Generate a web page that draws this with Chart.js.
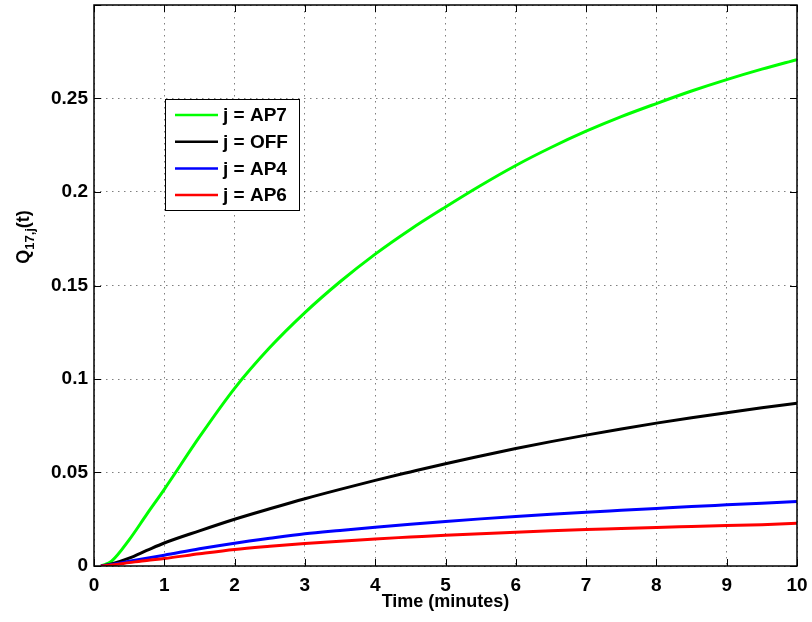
<!DOCTYPE html>
<html>
<head>
<meta charset="utf-8">
<script src="https://cdn.jsdelivr.net/npm/chart.js@4.4.1/dist/chart.umd.min.js"></script>
<style>
  html, body { margin: 0; padding: 0; background: #fff; }
  #wrap { width: 812px; height: 622px; }
</style>
</head>
<body>
<div id="wrap"><canvas id="qChart" width="812" height="622"></canvas></div>
<script>
// time points (minutes)
const times = [0.1, 0.25, 0.5, 0.75, 1, 1.5, 2, 2.5, 3, 3.5, 4, 4.5, 5, 5.5, 6, 6.5, 7, 7.5, 8, 8.5, 9, 9.5, 10];

// Q_{17,j}(t) per destination j
const ap7 = [0, 0.0026, 0.014, 0.0276, 0.041, 0.069, 0.095, 0.1168, 0.1355, 0.152, 0.1668, 0.180, 0.192, 0.2035, 0.2142, 0.2238, 0.2325, 0.2403, 0.2473, 0.254, 0.2601, 0.2657, 0.2708];
const off = [0, 0.0011, 0.0042, 0.0083, 0.0123, 0.0188, 0.025, 0.0306, 0.036, 0.041, 0.0458, 0.0503, 0.0547, 0.0588, 0.0628, 0.0665, 0.070, 0.0733, 0.0764, 0.0793, 0.082, 0.0846, 0.087];
const ap4 = [0, 0.0008, 0.0025, 0.0042, 0.0058, 0.0092, 0.0122, 0.0148, 0.0172, 0.019, 0.0207, 0.0223, 0.0238, 0.0252, 0.0265, 0.0277, 0.0288, 0.0298, 0.0308, 0.0318, 0.0327, 0.0336, 0.0345];
const ap6 = [0, 0.0006, 0.0018, 0.003, 0.004, 0.0065, 0.0088, 0.0105, 0.012, 0.0133, 0.0145, 0.0155, 0.0165, 0.0173, 0.018, 0.0188, 0.0195, 0.02, 0.0206, 0.0211, 0.0216, 0.0221, 0.0228];

const seriesLabels = ['j = AP7', 'j = OFF', 'j = AP4', 'j = AP6'];
const seriesColors = ['#00ff00', '#000000', '#0000ff', '#ff0000'];
const seriesValues = [ap7, off, ap4, ap6];

const xTicks = [0, 1, 2, 3, 4, 5, 6, 7, 8, 9, 10];
const yTicks = [0, 0.05, 0.1, 0.15, 0.2, 0.25, 0.3];

const FONT = "'Liberation Sans', Arial, Helvetica, sans-serif";

const toPoints = vals => vals.map((v, i) => ({ x: times[i], y: v }));

// box, inward ticks, axis titles and legend, MATLAB style
const matlabBits = {
    id: 'matlabBits',
    afterDatasetsDraw(chart) {
        const { ctx, chartArea: a, scales: { x, y } } = chart;
        ctx.save();
        ctx.strokeStyle = '#000';
        ctx.lineWidth = 1.5;
        ctx.strokeRect(a.left, a.top, a.right - a.left, a.bottom - a.top);

        ctx.lineWidth = 1;
        ctx.beginPath();
        xTicks.forEach(t => {
            const px = Math.round(x.getPixelForValue(t)) + 0.5;
            ctx.moveTo(px, a.bottom); ctx.lineTo(px, a.bottom - 7);
            ctx.moveTo(px, a.top); ctx.lineTo(px, a.top + 7);
        });
        yTicks.forEach(t => {
            const py = Math.round(y.getPixelForValue(t)) + 0.5;
            ctx.moveTo(a.left, py); ctx.lineTo(a.left + 7, py);
            ctx.moveTo(a.right, py); ctx.lineTo(a.right - 7, py);
        });
        ctx.stroke();
        ctx.restore();
    },
    afterDraw(chart) {
        const { ctx, chartArea: a } = chart;
        ctx.save();
        ctx.fillStyle = '#000';

        // x title
        ctx.font = 'bold 18px ' + FONT;
        ctx.textAlign = 'center';
        ctx.textBaseline = 'middle';
        ctx.fillText('Time (minutes)', (a.left + a.right) / 2, 602);

        // y title with subscript
        ctx.translate(23, 237);
        ctx.rotate(-Math.PI / 2);
        ctx.textAlign = 'left';
        ctx.textBaseline = 'alphabetic';
        const big = 'bold 18px ' + FONT, small = 'bold 13px ' + FONT;
        ctx.font = big; const wQ = ctx.measureText('Q').width; const wT = ctx.measureText('(t)').width;
        ctx.font = small; const wS = ctx.measureText('17,j').width;
        let cx = -(wQ + wS + wT) / 2;
        ctx.font = big; ctx.fillText('Q', cx, 6); cx += wQ;
        ctx.font = small; ctx.fillText('17,j', cx, 11); cx += wS;
        ctx.font = big; ctx.fillText('(t)', cx, 6);
        ctx.restore();

        // legend box
        ctx.save();
        const lx = 165.5, ly = 99.5, lw = 134, lh = 111;
        ctx.fillStyle = '#fff';
        ctx.fillRect(lx, ly, lw, lh);
        ctx.strokeStyle = '#000';
        ctx.lineWidth = 1;
        ctx.strokeRect(lx, ly, lw, lh);
        ctx.font = 'bold 19px ' + FONT;
        ctx.textAlign = 'left';
        ctx.textBaseline = 'middle';
        seriesLabels.forEach((lab, i) => {
            const ey = 115 + i * 26.7;
            ctx.strokeStyle = seriesColors[i];
            ctx.lineWidth = 2.5;
            ctx.beginPath();
            ctx.moveTo(175, ey); ctx.lineTo(218, ey);
            ctx.stroke();
            ctx.fillStyle = '#000';
            ctx.fillText(lab, 223, ey + 1);
        });
        ctx.restore();
    }
};

const ctx = document.getElementById('qChart').getContext('2d');
new Chart(ctx, {
    type: 'line',
    data: {
        datasets: seriesValues.map((vals, i) => ({
            label: seriesLabels[i],
            data: toPoints(vals),
            borderColor: seriesColors[i],
            borderWidth: 3,
            pointRadius: 0,
            fill: false,
            cubicInterpolationMode: 'monotone',
            order: 4 - i
        }))
    },
    options: {
        responsive: false,
        animation: false,
        layout: { padding: { top: 5, right: 15, left: 0, bottom: 0 } },
        plugins: { legend: { display: false }, tooltip: { enabled: false } },
        scales: {
            x: {
                type: 'linear',
                min: 0, max: 10,
                afterFit: s => { s.height = 56; s.paddingLeft = 0; s.paddingRight = 0; },
                afterBuildTicks: s => { s.ticks = xTicks.map(v => ({ value: v })); },
                grid: { color: 'rgba(0,0,0,0.5)', drawTicks: false },
                border: { display: false, dash: [1.5, 4.5] },
                ticks: { color: '#000', padding: 8, font: { family: FONT, size: 19, weight: 'bold' } }
            },
            y: {
                type: 'linear',
                min: 0, max: 0.3,
                afterFit: s => { s.width = 94; s.paddingTop = 0; s.paddingBottom = 0; },
                afterBuildTicks: s => { s.ticks = yTicks.map(v => ({ value: v })); },
                grid: { color: 'rgba(0,0,0,0.5)', drawTicks: false },
                border: { display: false, dash: [1.5, 4.5] },
                ticks: {
                    color: '#000', padding: 6,
                    font: { family: FONT, size: 19, weight: 'bold' },
                    callback: v => (v >= 0.3 ? '' : String(Number(v.toFixed(2))))
                }
            }
        }
    },
    plugins: [matlabBits]
});
</script>
</body>
</html>
